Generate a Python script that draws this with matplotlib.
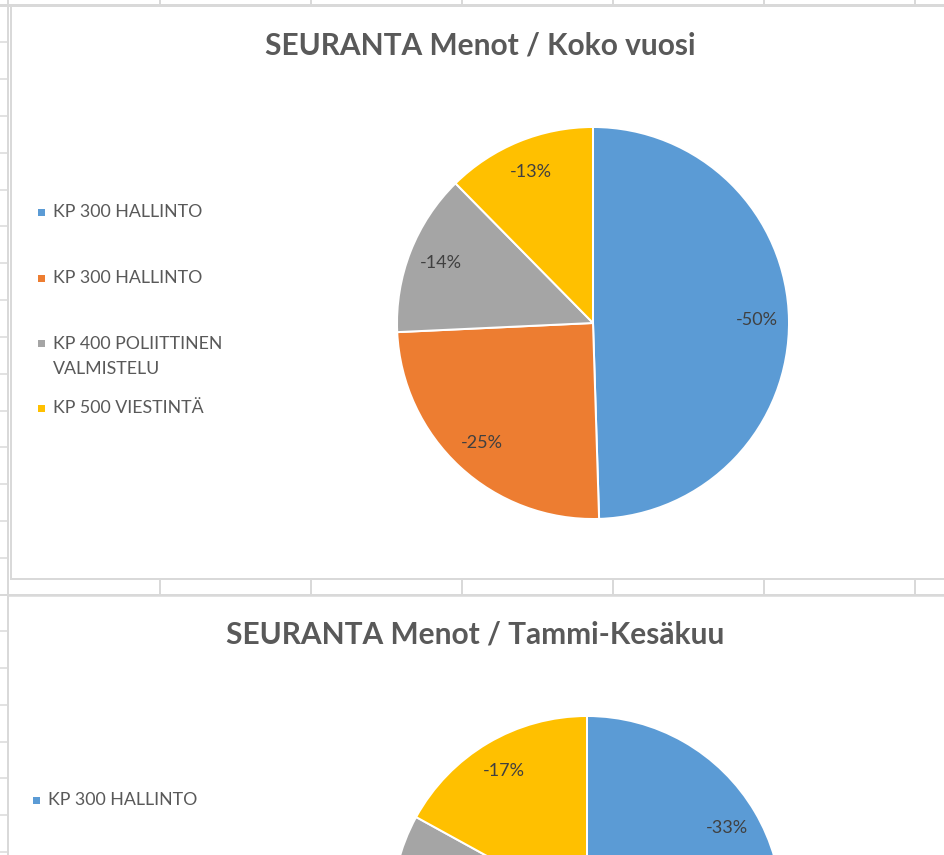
import matplotlib
matplotlib.use("Agg")
import matplotlib.pyplot as plt
from matplotlib.patches import Rectangle
from decimal import Decimal, ROUND_HALF_UP

# ---- data ----
categories1 = ["KP 300 HALLINTO", "KP 300 HALLINTO", "KP 400 POLIITTINEN\nVALMISTELU", "KP 500 VIESTINTÄ"]
values1 = [-0.50, -0.25, -0.135, -0.125]
title1 = "SEURANTA Menot / Koko vuosi"

categories2 = ["KP 300 HALLINTO", "KP 300 HALLINTO", "KP 400 POLIITTINEN\nVALMISTELU", "KP 500 VIESTINTÄ"]
values2 = [-0.33, -0.33, -0.17, -0.17]
title2 = "SEURANTA Menot / Tammi-Kesäkuu"

colors = ["#5B9BD5", "#ED7D31", "#A5A5A5", "#FFC000"]

W, H = 944, 855
FONT = "Lato"
TXT = "#595959"
GRID = "#d9d9d9"

fig = plt.figure(figsize=(W / 100, H / 100), dpi=100)
bg = fig.add_axes([0, 0, 1, 1])
bg.set_xlim(0, W)
bg.set_ylim(H, 0)
bg.axis("off")

px = 0.72  # points per pixel

# spreadsheet grid lines
cols = [160, 311, 462, 613, 764, 915]
for x in cols:
    bg.plot([x, x], [0, 5], color=GRID, lw=2 * px)
    bg.plot([x, x], [580, 595], color=GRID, lw=2 * px)
bg.plot([0, W], [5, 5], color=GRID, lw=3 * px)
bg.plot([0, W], [595, 595], color=GRID, lw=2 * px)
bg.plot([8, 8], [0, H], color=GRID, lw=2 * px)
y = 42.5
while y < H:
    bg.plot([0, 8], [y, y], color=GRID, lw=1.5 * px)
    y += 36.8

# chart frames
bg.add_patch(Rectangle((10.5, 6), W + 10, 573, fill=False, ec=GRID, lw=2 * px))
bg.add_patch(Rectangle((8, 596), W + 10, 300, fill=False, ec=GRID, lw=1.5 * px))


def pct_label(v):
    d = (Decimal(str(v)) * 100).quantize(Decimal("1"), rounding=ROUND_HALF_UP)
    return "{}%".format(d)


def draw_pie(cx, cy, r, vals, title, tx, ty):
    ax = fig.add_axes([(cx - r) / W, 1 - (cy + r) / H, 2 * r / W, 2 * r / H])
    labels = [pct_label(v) for v in vals]
    wedges, texts = ax.pie([abs(v) for v in vals], colors=colors, startangle=90,
                           counterclock=False, labels=labels, labeldistance=0.835,
                           wedgeprops=dict(edgecolor="white", linewidth=2 * px),
                           textprops=dict(ha="center", va="center", fontsize=13,
                                          color="#404040", family=FONT))
    ax.set_xlim(-1, 1)
    ax.set_ylim(-1, 1)
    ax.set_aspect("auto")
    ax.axis("off")
    # labels of slices lying below the visible screenshot are not shown
    for t in texts:
        x, yv = t.get_position()
        if cy - yv * r > H - 8:
            t.set_visible(False)
    bg.text(tx, ty, title, ha="center", va="center", fontsize=21.5, fontweight="bold",
            color=TXT, family=FONT)


draw_pie(593, 323, 196, values1, title1, 480, 45)
draw_pie(587, 911, 195, values2, title2, 475, 634)

# legends
LFS = 12.8
leg1_y = [212, 278, 356.5, 408]
for c, lab, ly in zip(colors, categories1, leg1_y):
    first_y = ly - 13.5 if "\n" in lab else ly
    bg.add_patch(Rectangle((38, first_y - 3.5), 7, 7, color=c, lw=0))
    bg.text(53, ly, lab, ha="left", va="center", fontsize=LFS, color=TXT,
            family=FONT, linespacing=1.75)

leg2_y = [800]
for c, lab, ly in zip(colors, categories2, leg2_y):
    bg.add_patch(Rectangle((33, ly - 3.5), 7, 7, color=c, lw=0))
    bg.text(48, ly, lab, ha="left", va="center", fontsize=LFS, color=TXT, family=FONT)

fig.savefig("out.png", dpi=100)
